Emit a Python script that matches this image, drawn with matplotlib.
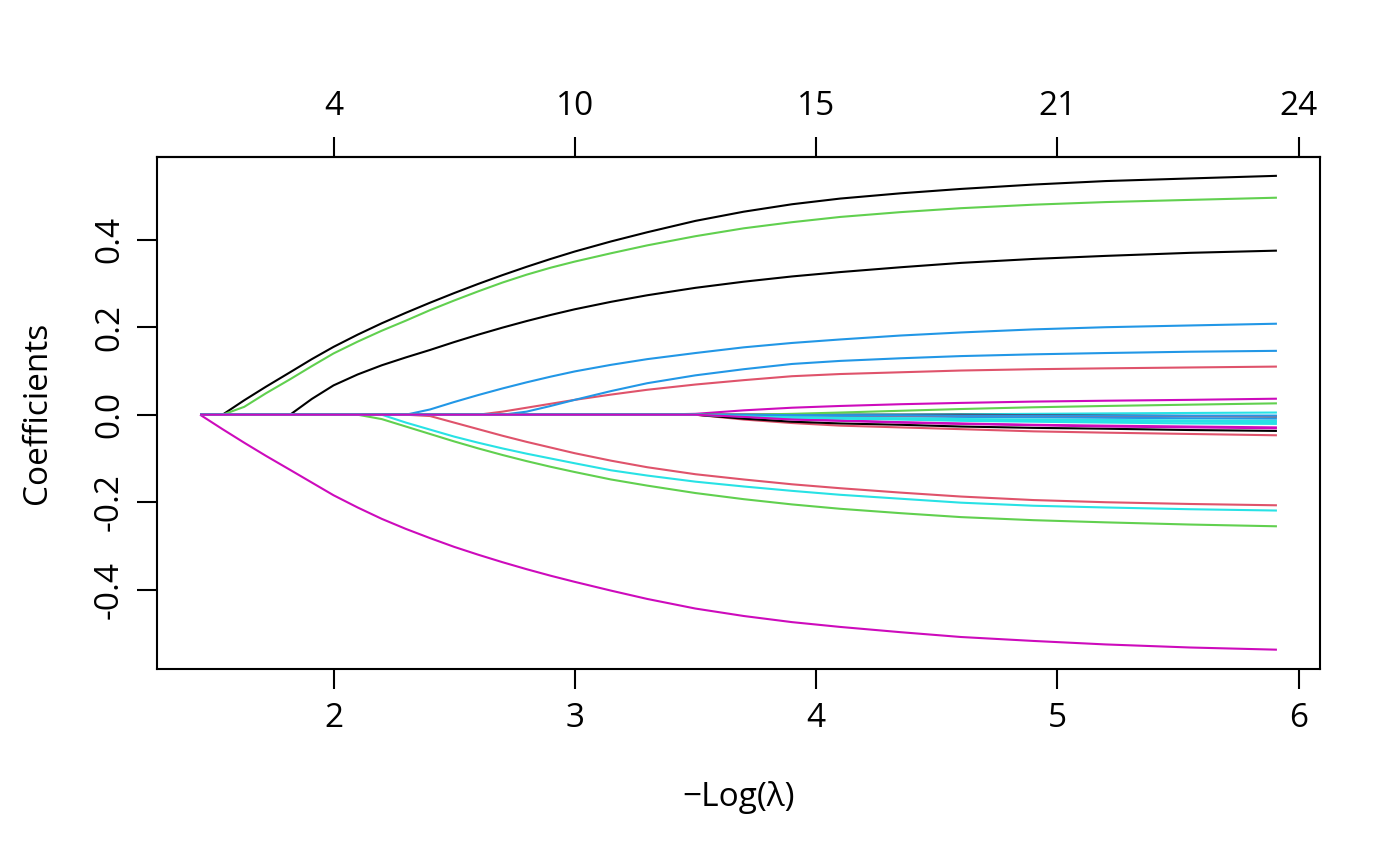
import matplotlib
matplotlib.use("Agg")
import matplotlib.pyplot as plt

plt.rcParams['font.family'] = ['Open Sans', 'DejaVu Sans']

# -log(lambda) grid
neg_log_lambda = [1.447, 1.54, 1.63, 1.72, 1.82, 1.91, 2.0, 2.1, 2.2, 2.3,
                  2.4, 2.5, 2.6, 2.7, 2.8, 2.9, 3.0, 3.15, 3.3, 3.5,
                  3.7, 3.9, 4.1, 4.35, 4.6, 4.9, 5.2, 5.55, 5.91]

# number of non-zero coefficients (top axis)
df_ticks = [2, 3, 4, 5, 6]
df_labels = ['4', '10', '15', '21', '24']

# coefficient paths, one list per variable
coef_k1 = [0, 0, .033, .064, .097, .127, .155, .183, .209, .233,
           .256, .278, .299, .319, .338, .356, .373, .396, .417, .443,
           .464, .481, .494, .506, .516, .526, .534, .540, .546]
coef_g1 = [0, 0, .018, .049, .081, .111, .14, .167, .192, .215,
           .239, .261, .282, .302, .320, .336, .350, .369, .387, .408,
           .426, .440, .452, .463, .472, .480, .486, .491, .496]
coef_k2 = [0, 0, 0, 0, 0, .036, .067, .092, .113, .131,
           .148, .166, .183, .199, .214, .228, .241, .258, .273, .29,
           .304, .316, .326, .337, .347, .356, .363, .370, .375]
coef_b1 = [0, 0, 0, 0, 0, 0, 0, 0, 0, 0,
           .012, .029, .045, .06, .074, .087, .099, .114, .127, .141,
           .154, .164, .172, .181, .188, .195, .200, .204, .208]
coef_b2 = [0, 0, 0, 0, 0, 0, 0, 0, 0, 0,
           0, 0, 0, 0, .007, .02, .034, .054, .072, .09,
           .104, .116, .123, .129, .134, .138, .141, .144, .146]
coef_r1 = [0, 0, 0, 0, 0, 0, 0, 0, 0, 0,
           0, 0, 0, .007, .016, .025, .034, .046, .057, .069,
           .079, .088, .093, .097, .101, .104, .106, .108, .110]
coef_m1 = [0, -.033, -.064, -.094, -.126, -.155, -.184, -.212, -.238, -.261,
           -.282, -.302, -.320, -.337, -.353, -.368, -.382, -.402, -.421, -.443,
           -.460, -.474, -.485, -.497, -.508, -.517, -.525, -.532, -.537]
coef_g2 = [0, 0, 0, 0, 0, 0, 0, 0, -.01, -.027,
           -.044, -.061, -.077, -.092, -.106, -.119, -.131, -.148, -.162, -.179,
           -.193, -.205, -.215, -.225, -.234, -.241, -.246, -.251, -.255]
coef_c1 = [0, 0, 0, 0, 0, 0, 0, 0, 0, -.018,
           -.034, -.05, -.064, -.077, -.089, -.100, -.111, -.127, -.139, -.153,
           -.164, -.174, -.183, -.192, -.201, -.208, -.212, -.216, -.219]
coef_r2 = [0, 0, 0, 0, 0, 0, 0, 0, 0, 0,
           -.003, -.018, -.033, -.048, -.062, -.075, -.088, -.105, -.12, -.136,
           -.148, -.159, -.168, -.178, -.187, -.195, -.2, -.204, -.207]
# small coefficients entering after -log(lambda) = 3.5
zeros19 = [0] * 19
coef_m2 = zeros19 + [.002, .01, .016, .02, .024, .027, .030, .032, .034, .0366]
coef_g3 = zeros19 + [0, 0, .002, .005, .009, .013, .017, .020, .023, .026]
coef_c2 = zeros19 + [0, 0, 0, 0, 0, .001, .002, .003, .004, .005]
coef_k3 = zeros19 + [0, 0, 0, 0, 0, 0, -.001, -.002, -.003, -.004]
coef_b3 = zeros19 + [0, -.001, -.002, -.003, -.004, -.005, -.006, -.007, -.008, -.009]
coef_c3 = zeros19 + [0, -.003, -.005, -.007, -.008, -.01, -.011, -.012, -.013, -.014]
coef_c4 = zeros19 + [0, -.004, -.007, -.009, -.011, -.014, -.016, -.018, -.02, -.021]
coef_k4 = zeros19 + [0, -.009, -.016, -.02, -.023, -.027, -.030, -.032, -.035, -.037]
coef_r3 = zeros19 + [0, -.011, -.019, -.025, -.029, -.033, -.038, -.041, -.044, -.047]
coef_r4 = zeros19 + [0, 0, -.001, -.001, -.002, -.002, -.002, -.003, -.003, -.003]
coef_b4 = zeros19 + [0, 0, -.001, -.001, -.001, -.002, -.002, -.002, -.002, -.002]
coef_c5 = zeros19 + [0, -.003, -.006, -.008, -.01, -.011, -.013, -.015, -.016, -.017]
coef_m3 = zeros19 + [0, -.005, -.01, -.013, -.017, -.02, -.023, -.025, -.027, -.029]
coef_m4 = zeros19 + [0, -.005, -.011, -.014, -.018, -.021, -.024, -.027, -.029, -.031]

# R palette colours
pal = {'k': '#000000', 'r': '#DF536B', 'g': '#61D04F',
       'b': '#2297E6', 'c': '#28E2E5', 'm': '#CD0BBC'}

paths = [
    (coef_k1, 'k'), (coef_r1, 'r'), (coef_g1, 'g'), (coef_b1, 'b'), (coef_c1, 'c'), (coef_m1, 'm'),
    (coef_k2, 'k'), (coef_r2, 'r'), (coef_g2, 'g'), (coef_b2, 'b'), (coef_c2, 'c'), (coef_m2, 'm'),
    (coef_k3, 'k'), (coef_r3, 'r'), (coef_g3, 'g'), (coef_b3, 'b'), (coef_c3, 'c'), (coef_m3, 'm'),
    (coef_k4, 'k'), (coef_r4, 'r'), (coef_c5, 'c'), (coef_b4, 'b'), (coef_c4, 'c'), (coef_m4, 'm'),
]

fig = plt.figure(figsize=(7, 4.325), dpi=200)
ax = fig.add_axes([157 / 1400, 1 - 668.5 / 865, (1320 - 157) / 1400, (668.5 - 157) / 865])

for vals, c in paths:
    ax.plot(neg_log_lambda, vals, color=pal[c], lw=0.75, solid_capstyle='butt')

ax.set_xlim(1.2685, 6.0885)
ax.set_ylim(-0.580, 0.589)
ax.set_xticks([2, 3, 4, 5, 6])
ax.set_yticks([-0.4, -0.2, 0.0, 0.2, 0.4])
ax.set_yticklabels(['-0.4', '-0.2', '0.0', '0.2', '0.4'], rotation=90, va='center')
ax.tick_params(direction='out', length=7.2, width=0.75, labelsize=12, pad=5)
ax.tick_params(axis='y', pad=4)
for s in ax.spines.values():
    s.set_linewidth(0.75)

top = ax.secondary_xaxis('top')
top.set_xticks(df_ticks)
top.set_xticklabels(df_labels)
top.tick_params(direction='out', length=7.2, width=0.75, labelsize=12, pad=5)
top.spines['top'].set_linewidth(0.75)

fig.text(738.5 / 1400, 1 - 797 / 865, '\u2212Log(\u03bb)', ha='center', va='center', fontsize=12)
fig.text(38 / 1400, 1 - 412.5 / 865, 'Coefficients', ha='center', va='center',
         rotation=90, fontsize=12)

fig.savefig('out.png', dpi=200)
